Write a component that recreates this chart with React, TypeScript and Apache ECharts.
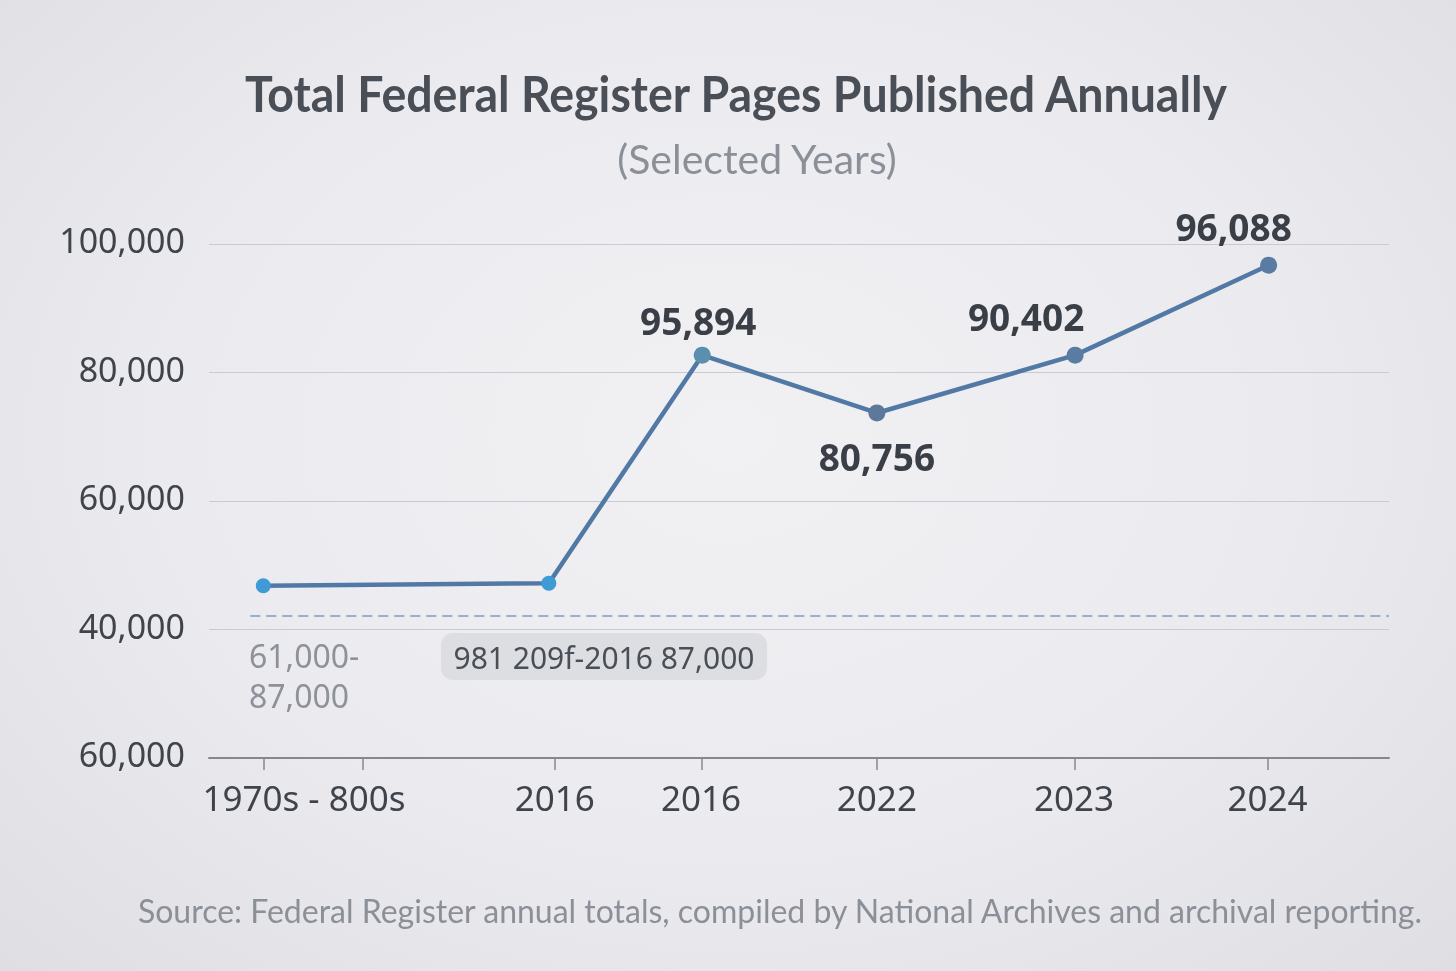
import React, { useEffect, useRef } from "react";
import * as echarts from "echarts";

// ---- data ----
const categories = ["1970s - 800s", "2016", "2016", "2022", "2023", "2024"];
const labelSlots = [8.05, 29.3, 41.7, 56.6, 73.3, 89.7];
const tickSlots = [4.6, 13.0, 29.3, 41.8, 56.6, 73.4, 89.7];
const pointSlots = [4.6, 28.8, 41.8, 56.6, 73.4, 89.8];
const pageValues = [46800, 47200, 82700, 73700, 82700, 96700];
const pointLabels = ["", "", "95,894", "80,756", "90,402", "96,088"];
const yTickLabels = ["60,000", "40,000", "60,000", "80,000", "100,000"];
const yMin = 20000;
const yMax = 100000;
const yStep = 20000;
const referenceLevel = 42100;

const titleText = "Total Federal Register Pages Published Annually";
const subtitleText = "(Selected Years)";
const sourceText =
  "Source: Federal Register annual totals, compiled by National Archives and archival reporting.";
const rangeNote = "61,000-\n87,000";
const boxNote = "981 209f-2016 87,000";

const pointColors = ["#3f9ad6", "#3f9ad6", "#5a8fae", "#5d7899", "#5b7ca2", "#5a7ca3"];
const labelOffsets: [number, number][] = [
  [0, 0],
  [0, 0],
  [-4, -35],
  [0, 44],
  [-49, -39],
  [-35, -39],
];

const SANS = "'Noto Sans', 'Open Sans', sans-serif";
const HUMAN = "Lato, 'Noto Sans', sans-serif";

function nearestIndex(arr: number[], v: number) {
  let best = 0;
  for (let i = 1; i < arr.length; i++) {
    if (Math.abs(arr[i] - v) < Math.abs(arr[best] - v)) best = i;
  }
  return best;
}

export default function App() {
  const ref = useRef<HTMLDivElement>(null);

  useEffect(() => {
    if (!ref.current) return;
    const chart = echarts.init(ref.current, null, { renderer: "svg" });

    const data = pageValues.map((v, i) => ({
      value: [pointSlots[i], v],
      symbolSize: i < 2 ? 15 : 17,
      itemStyle: { color: pointColors[i] },
      label: {
        show: pointLabels[i] !== "",
        position: "inside",
        offset: labelOffsets[i],
        formatter: () => pointLabels[i],
        color: "#3a3f47",
        fontSize: 37,
        fontWeight: "bold",
        fontFamily: SANS,
      },
    }));

    chart.setOption({
      animation: false,
      backgroundColor: "transparent",
      grid: { left: 209, right: 67, top: 244, bottom: 213, containLabel: false },
      xAxis: {
        type: "value",
        min: 0,
        max: 100,
        axisLine: { show: true, lineStyle: { color: "#85888e", width: 2 } },
        axisTick: {
          show: true,
          customValues: tickSlots,
          length: 12,
          lineStyle: { color: "#85888e", width: 1.5 },
        },
        splitLine: { show: false },
        axisLabel: {
          show: true,
          customValues: labelSlots,
          margin: 22,
          color: "#3f444c",
          fontSize: 35,
          fontFamily: SANS,
          formatter: (v: number) => categories[nearestIndex(labelSlots, v)],
        },
      },
      yAxis: {
        type: "value",
        min: yMin,
        max: yMax,
        interval: yStep,
        axisLine: { show: false },
        axisTick: { show: false },
        splitLine: { show: true, lineStyle: { color: "#c8cbd2", width: 1 } },
        axisLabel: {
          margin: 24,
          verticalAlign: "middle",
          formatter: (v: number) =>
            "{t|" + (yTickLabels[Math.round((v - yMin) / yStep)] ?? "") + "}",
          rich: {
            t: {
              color: "#3f444c",
              fontSize: 34,
              fontFamily: SANS,
              padding: [0, 0, 8, 0],
            },
          },
        },
      },
      series: [
        {
          type: "line",
          data,
          symbol: "circle",
          lineStyle: { color: "#5279a6", width: 4.5 },
          z: 5,
          markLine: {
            silent: true,
            symbol: "none",
            label: { show: false },
            lineStyle: { color: "#7e9bc2", width: 1.5, type: [10, 6] },
            data: [[{ coord: [3.5, referenceLevel] }, { coord: [100, referenceLevel] }]],
          },
        },
      ],
      graphic: [
        {
          type: "text",
          x: 736,
          y: 92,
          scaleX: 0.93,
          style: {
            text: titleText,
            fill: "#4a4f57",
            font: `bold 50px ${HUMAN}`,
            align: "center",
            verticalAlign: "middle",
          },
        },
        {
          type: "text",
          x: 757,
          y: 158,
          style: {
            text: subtitleText,
            fill: "#8b9098",
            font: `41px ${HUMAN}`,
            align: "center",
            verticalAlign: "middle",
          },
        },
        {
          type: "text",
          x: 1422,
          y: 910,
          style: {
            text: sourceText,
            fill: "#8b9098",
            font: `32px ${HUMAN}`,
            align: "right",
            verticalAlign: "middle",
          },
        },
        {
          type: "text",
          x: 249,
          y: 675,
          style: {
            text: rangeNote,
            fill: "#8d9199",
            font: `32px ${SANS}`,
            lineHeight: 40,
            align: "left",
            verticalAlign: "middle",
          },
        },
        {
          type: "rect",
          shape: { x: 441, y: 633, width: 326, height: 47, r: 12 },
          style: { fill: "#dcdee2" },
        },
        {
          type: "text",
          x: 604,
          y: 657,
          style: {
            text: boxNote,
            fill: "#4a4f57",
            font: `30px ${SANS}`,
            align: "center",
            verticalAlign: "middle",
          },
        },
      ],
    });

    return () => chart.dispose();
  }, []);

  return (
    <div
      style={{
        position: "fixed",
        left: 0,
        top: 0,
        width: 1456,
        height: 971,
        background:
          "radial-gradient(ellipse at 50% 45%, #f1f1f4 0%, #ebebef 55%, #dedee3 100%)",
      }}
    >
      <div ref={ref} style={{ width: 1456, height: 971 }} />
    </div>
  );
}
